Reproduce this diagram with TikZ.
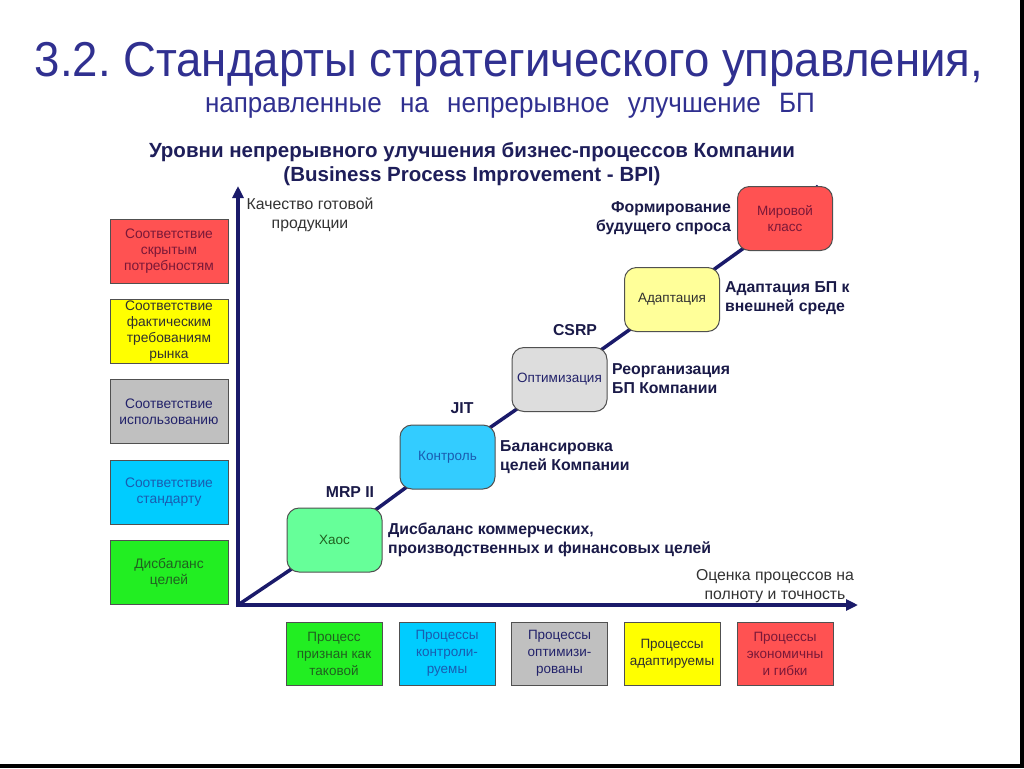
\documentclass[tikz,border=0pt]{standalone}
\usepackage{fontspec}
\setmainfont{Liberation Sans}
\newfontfamily\narrowfont[FakeStretch=0.93]{Liberation Sans}
\usetikzlibrary{arrows.meta,backgrounds}
\frenchspacing
\definecolor{titleblue}{HTML}{303090}
\definecolor{headnavy}{HTML}{1E1E5A}
\definecolor{labnavy}{HTML}{1A1A48}
\definecolor{axisblue}{HTML}{1A1A6A}
\definecolor{bordergray}{HTML}{505050}
\definecolor{fred}{HTML}{FF5252}
\definecolor{fyellow}{HTML}{FFFF00}
\definecolor{fpaleyellow}{HTML}{FFFF99}
\definecolor{fgray}{HTML}{C0C0C0}
\definecolor{flightgray}{HTML}{DDDDDD}
\definecolor{fcyan}{HTML}{00CCFF}
\definecolor{fcyan2}{HTML}{33CCFF}
\definecolor{fgreen}{HTML}{22EE22}
\definecolor{fmint}{HTML}{66FF99}
\definecolor{tred}{HTML}{7A1838}
\definecolor{tyellow}{HTML}{303030}
\definecolor{tgray}{HTML}{22226A}
\definecolor{tcyan}{HTML}{1A5CB0}
\definecolor{tgreen}{HTML}{206020}
\tikzset{
  lbox/.style={draw=bordergray, line width=1pt, minimum width=118pt, minimum height=64pt,
    inner sep=0pt, align=center, font=\fontsize{13.8}{16}\selectfont},
  bbox/.style={draw=bordergray, line width=1pt, minimum width=96pt, minimum height=63pt,
    inner sep=0pt, align=center, font=\fontsize{13.5}{17}\selectfont},
  stepbox/.style={draw=bordergray, line width=1pt, rounded corners=12pt, minimum width=95pt,
    minimum height=64pt, inner sep=1pt, align=center, font=\fontsize{13.5}{16.5}\selectfont},
  blabel/.style={font=\bfseries\fontsize{15.8}{19}\selectfont, text=labnavy, inner sep=0pt},
  alabel/.style={font=\fontsize{15.8}{19}\selectfont, text=black!80, inner sep=0pt, align=center},
  axis/.style={draw=axisblue, line width=3.5pt, -{Triangle[width=11pt,length=12pt]}},
  diag/.style={draw=axisblue, line width=3.5pt}
}
\begin{document}
\begin{tikzpicture}[x=1pt,y=-1pt]
\useasboundingbox (0,0) rectangle (1024,768);

% titles
\node[text=titleblue, font=\narrowfont\fontsize{49}{49}\selectfont, inner sep=0pt] (title) at (509,64) {3.2. Стандарты стратегического управления,};
\node[text=titleblue, font=\narrowfont\fontsize{28}{28}\selectfont, inner sep=0pt] (subtitle) at (510,106)
  {\makebox[610pt][s]{направленные на непрерывное улучшение БП}};
\node[text=headnavy, font=\bfseries\fontsize{20.5}{24}\selectfont, align=center, inner sep=0pt] (head) at (472,164)
  {Уровни непрерывного улучшения бизнес-процессов Компании\\(Business Process Improvement - BPI)};

% axes
\coordinate (o) at (238,605);
\coordinate (ytop) at (238,186);
\coordinate (xend) at (858,605);
\coordinate (dtop) at (818,186);
\draw[axis] (238,607) -- (ytop);
\draw[axis] (236.3,605) -- (xend);

\node[alabel] (ylab) at (310,215) {Качество готовой\\продукции};
\node[alabel] (xlab) at (775,586) {Оценка процессов на\\полноту и точность};

% step boxes
\node[stepbox, fill=fmint, text=tgreen] (s1) at (334.5,540) {Хаос};
\node[stepbox, fill=fcyan2, text=tcyan] (s2) at (447.5,457) {Контроль};
\node[stepbox, fill=flightgray, text=tgray] (s3) at (559.5,379.5) {Оптимизация};
\node[stepbox, fill=fpaleyellow, text=tyellow] (s4) at (672,299.5) {Адаптация};
\node[stepbox, fill=fred, text=tred] (s5) at (785,218.5) {Мировой\\класс};

\begin{scope}[on background layer]
\fill[white] (0,0) rectangle (1024,768);
\fill[black] (1020,0) rectangle (1024,768);
\fill[black] (0,764) rectangle (1024,768);
\draw[diag] (o) -- (s1.center) -- (s2.center) -- (s3.center) -- (s4.center) -- (s5.center) -- (dtop);
\end{scope}

% step labels
\node[blabel] (mrp) at (350,492) {MRP II};
\node[blabel] (jit) at (462,408) {JIT};
\node[blabel] (csrp) at (575,330) {CSRP};
\node[blabel, anchor=west, align=left] (l1) at (388,540) {Дисбаланс коммерческих,\\производственных и финансовых целей};
\node[blabel, anchor=west, align=left] (l2) at (500,457.5) {Балансировка\\целей Компании};
\node[blabel, anchor=west, align=left] (l3) at (612,378.5) {Реорганизация\\БП Компании};
\node[blabel, anchor=west, align=left] (l4) at (725,298.5) {Адаптация БП к\\внешней среде};
\node[blabel, anchor=east, align=right] (l5) at (731,218.5) {Формирование\\будущего спроса};

% left boxes
\node[lbox, fill=fred, text=tred] (q5) at (169,251) {Соответствие\\скрытым\\потребностям};
\node[lbox, fill=fyellow, text=tyellow] (q4) at (169,331) {Соответствие\\фактическим\\требованиям\\рынка};
\node[lbox, fill=fgray, text=tgray] (q3) at (169,411.5) {Соответствие\\использованию};
\node[lbox, fill=fcyan, text=tcyan] (q2) at (169,492) {Соответствие\\стандарту};
\node[lbox, fill=fgreen, text=tgreen] (q1) at (169,572.5) {Дисбаланс\\целей};

% bottom boxes
\node[bbox, fill=fgreen, text=tgreen] (p1) at (334,653.5) {Процесс\\признан как\\таковой};
\node[bbox, fill=fcyan, text=tcyan] (p2) at (447,653.5) {Процессы\\контроли-\\руемы};
\node[bbox, fill=fgray, text=tgray] (p3) at (559.5,653.5) {Процессы\\оптимизи-\\рованы};
\node[bbox, fill=fyellow, text=tyellow] (p4) at (672,653.5) {Процессы\\адаптируемы};
\node[bbox, fill=fred, text=tred] (p5) at (785,653.5) {Процессы\\экономичны\\и гибки};
\end{tikzpicture}
\end{document}
